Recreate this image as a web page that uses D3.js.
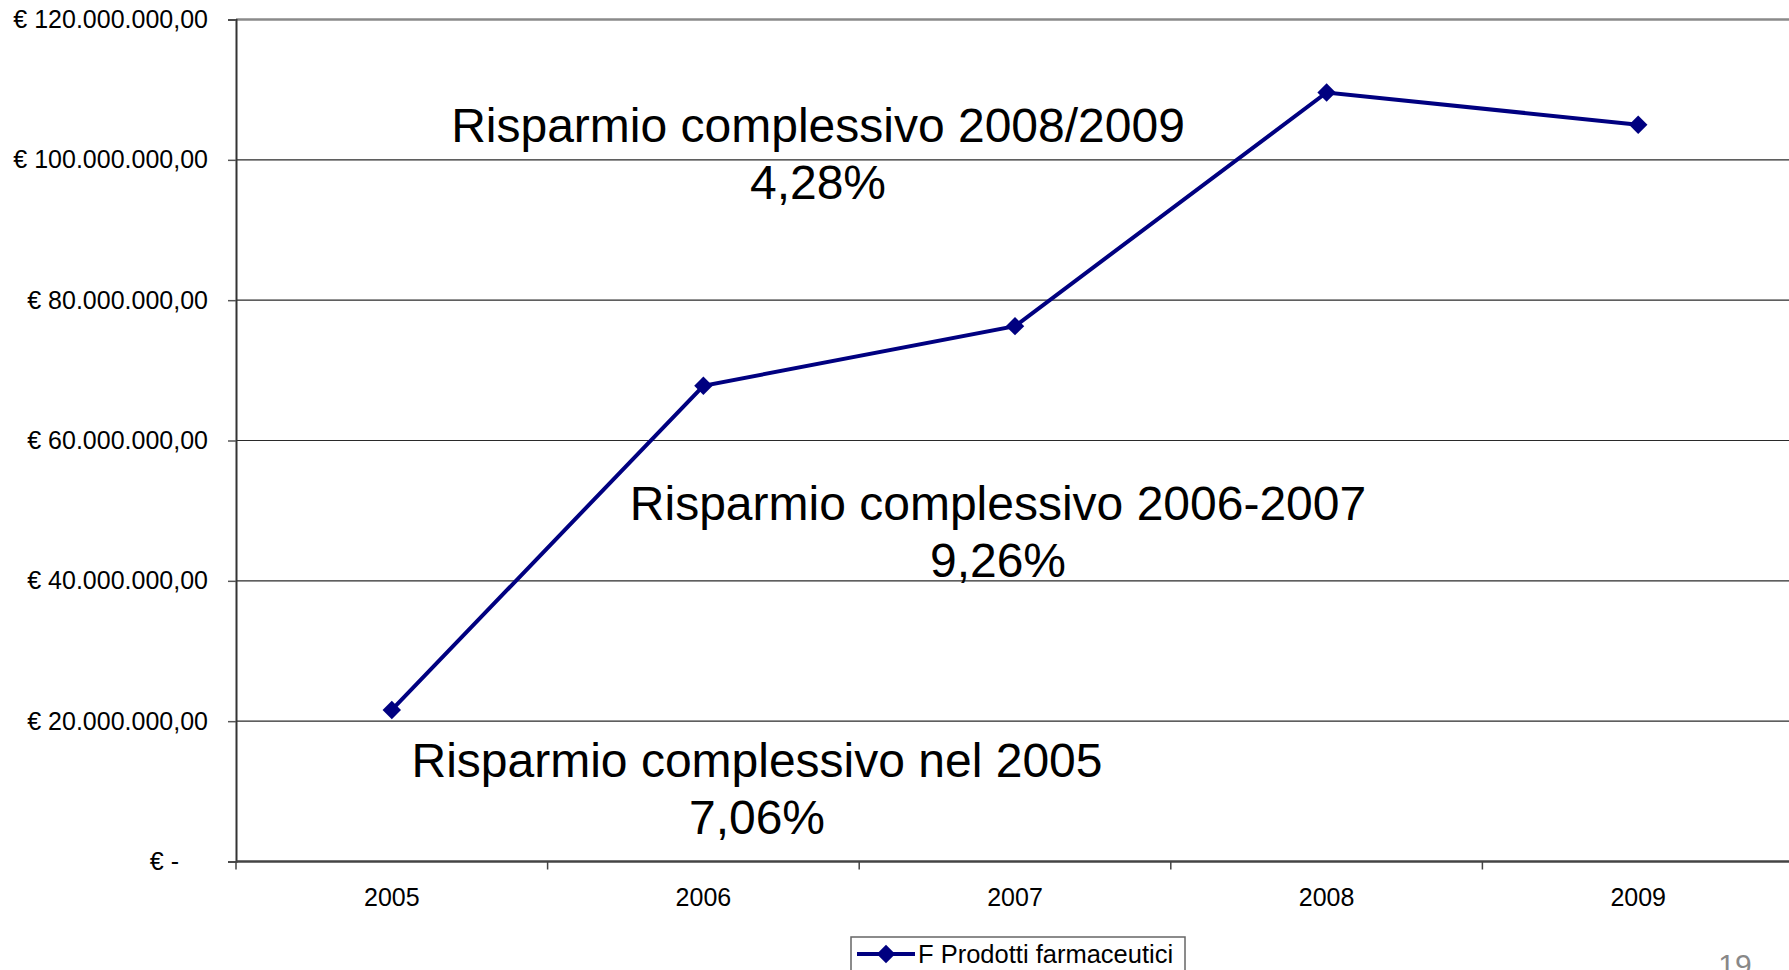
<!DOCTYPE html>
<html>
<head>
<meta charset="utf-8">
<script src="https://cdn.jsdelivr.net/npm/d3@7"></script>
<style>
  body { margin: 0; background: #fff; overflow: hidden; }
  svg { display: block; font-family: "Liberation Sans", Arial, sans-serif; }
</style>
</head>
<body>
<svg id="chart" width="1789" height="970"></svg>
<script>
// data
const years = ['2005', '2006', '2007', '2008', '2009'];
const spesa = [21.6e6, 67.8e6, 76.3e6, 109.6e6, 105.0e6];
const yTicks = [0, 20e6, 40e6, 60e6, 80e6, 100e6, 120e6];
const seriesName = 'F Prodotti farmaceutici';
const noteTitles = ['Risparmio complessivo 2008/2009', 'Risparmio complessivo 2006-2007', 'Risparmio complessivo nel 2005'];
const notePercents = ['4,28%', '9,26%', '7,06%'];
const pageNumber = '19';

const svg = d3.select('#chart');

const plotLeft = 236, plotRight = 1794, plotTop = 19.5, plotBottom = 861.5;

const x = d3.scaleBand().domain(years).range([plotLeft, plotRight]);
const y = d3.scaleLinear().domain([0, 120e6]).range([plotBottom, plotTop]);

const it = d3.formatLocale({decimal: ',', thousands: '.', grouping: [3], currency: ['€ ', '']});
const fmt = it.format('$,.2f');

// gridlines
svg.append('g')
  .selectAll('line')
  .data(yTicks.filter(d => d > 0 && d < 120e6))
  .enter()
  .append('line')
  .attr('x1', plotLeft).attr('x2', plotRight)
  .attr('y1', d => y(d)).attr('y2', d => y(d))
  .attr('stroke', '#2a2a2a')
  .attr('stroke-width', 1.2);

// top border
svg.append('line')
  .attr('x1', plotLeft).attr('x2', plotRight)
  .attr('y1', y(120e6)).attr('y2', y(120e6))
  .attr('stroke', '#8a8a8a')
  .attr('stroke-width', 2.5);

// y axis
const yAxis = svg.append('g')
  .attr('transform', `translate(${plotLeft},0)`)
  .call(d3.axisLeft(y).tickValues(yTicks).tickSize(8).tickPadding(20)
    .tickFormat(d => d === 0 ? '€ -' : fmt(d)));
yAxis.select('.domain').attr('stroke', '#333').attr('stroke-width', 2);
yAxis.selectAll('.tick line').attr('stroke', '#555').attr('stroke-width', 1.5);
yAxis.selectAll('.tick text')
  .attr('font-size', 25)
  .attr('fill', '#000')
  .attr('font-family', '"Liberation Sans", Arial, sans-serif')
  .attr('dx', d => d === 0 ? -29 : 0);

// x axis
const xAxis = svg.append('g')
  .attr('transform', `translate(0,${plotBottom})`)
  .call(d3.axisBottom(x).tickSize(0).tickPadding(27));
xAxis.select('.domain').remove();
xAxis.selectAll('.tick text')
  .attr('font-size', 25)
  .attr('fill', '#000')
  .attr('font-family', '"Liberation Sans", Arial, sans-serif');

svg.append('line')
  .attr('x1', plotLeft).attr('x2', plotRight)
  .attr('y1', plotBottom).attr('y2', plotBottom)
  .attr('stroke', '#444')
  .attr('stroke-width', 2.5);

// ticks between categories
svg.append('g')
  .selectAll('line')
  .data(years)
  .enter()
  .append('line')
  .attr('x1', d => x(d)).attr('x2', d => x(d))
  .attr('y1', plotBottom).attr('y2', plotBottom + 8)
  .attr('stroke', '#444')
  .attr('stroke-width', 1.5);

// series
const pts = years.map((yr, i) => [x(yr) + x.bandwidth() / 2, y(spesa[i])]);

svg.append('path')
  .attr('d', d3.line()(pts))
  .attr('fill', 'none')
  .attr('stroke', '#000080')
  .attr('stroke-width', 4);

const diamond = d3.symbol(d3.symbolSquare, 170);

svg.append('g')
  .selectAll('path')
  .data(pts)
  .enter()
  .append('path')
  .attr('d', diamond)
  .attr('transform', d => `translate(${d[0]},${d[1]}) rotate(45)`)
  .attr('fill', '#000080');

// annotations
const notePos = [[818, 141.5, 198.5], [998, 520, 577], [757, 777, 834]];

noteTitles.forEach((t, i) => {
  const g = svg.append('g').attr('font-size', 48).attr('text-anchor', 'middle').attr('fill', '#000');
  g.append('text').attr('x', notePos[i][0]).attr('y', notePos[i][1]).text(t);
  g.append('text').attr('x', notePos[i][0]).attr('y', notePos[i][2]).text(notePercents[i]);
});

// legend
const legend = svg.append('g');
legend.append('rect')
  .attr('x', 851).attr('y', 937)
  .attr('width', 334).attr('height', 50)
  .attr('fill', '#fff')
  .attr('stroke', '#666')
  .attr('stroke-width', 1.5);
legend.append('line')
  .attr('x1', 857).attr('x2', 915)
  .attr('y1', 954).attr('y2', 954)
  .attr('stroke', '#000080')
  .attr('stroke-width', 4);
legend.append('path')
  .attr('d', diamond)
  .attr('transform', 'translate(886,954) rotate(45)')
  .attr('fill', '#000080');
legend.append('text')
  .attr('x', 918).attr('y', 963)
  .attr('font-size', 25.5)
  .attr('fill', '#000')
  .text(seriesName);

// page number (cut off at the bottom edge, as in the original slide)
svg.append('text')
  .attr('x', 1735).attr('y', 975)
  .attr('text-anchor', 'middle')
  .attr('font-size', 30)
  .attr('fill', '#888')
  .text(pageNumber);
</script>
</body>
</html>
